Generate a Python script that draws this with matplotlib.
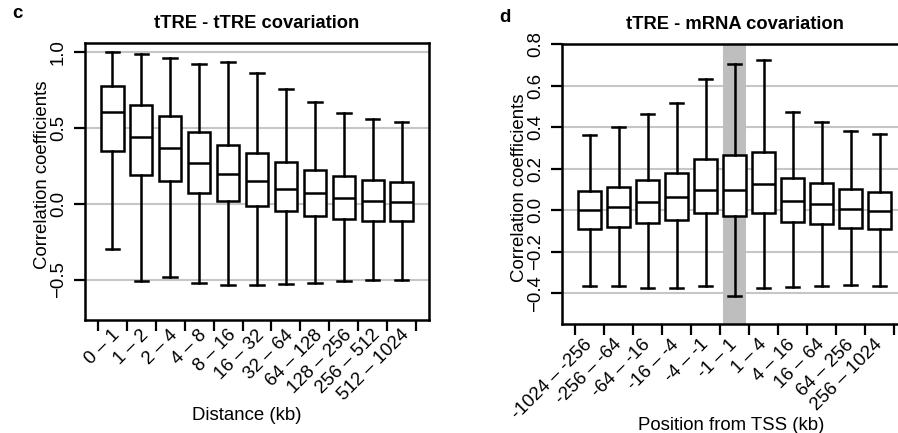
"""
Box plots of correlation coefficients:
  c) tTRE - tTRE covariation by pair distance
  d) tTRE - mRNA covariation by position relative to the TSS
"""

import matplotlib
matplotlib.use("Agg")
import matplotlib.pyplot as plt
import matplotlib.transforms as mtransforms
import numpy as np

plt.rcParams["font.family"] = ["Liberation Sans", "DejaVu Sans"]
plt.rcParams["font.size"] = 13.4

# panel c: distance bins (kb)
dist_labels = ["0 – 1", "1 – 2", "2 – 4", "4 – 8", "8 – 16", "16 – 32",
               "32 – 64", "64 – 128", "128 – 256", "256 – 512", "512 – 1024"]
dist_whislo = [-0.294, -0.51, -0.479, -0.523, -0.532, -0.532, -0.53, -0.523, -0.51, -0.503, -0.503]
dist_q1 = [0.348, 0.187, 0.148, 0.073, 0.02, -0.017, -0.048, -0.079, -0.099, -0.11, -0.116]
dist_med = [0.605, 0.438, 0.365, 0.268, 0.198, 0.15, 0.101, 0.071, 0.038, 0.022, 0.011]
dist_q3 = [0.778, 0.653, 0.578, 0.475, 0.387, 0.334, 0.275, 0.222, 0.185, 0.158, 0.145]
dist_whishi = [1.0, 0.99, 0.961, 0.921, 0.933, 0.86, 0.759, 0.671, 0.598, 0.559, 0.537]

# panel d: position from TSS bins (kb); the "-1 – 1" bin is highlighted
tss_labels = ["-1024 – -256", "-256 – -64", "-64 – -16", "-16 – -4", "-4 – -1",
              "-1 – 1", "1 – 4", "4 – 16", "16 – 64", "64 – 256", "256 – 1024"]
tss_whislo = [-0.363, -0.366, -0.376, -0.374, -0.366, -0.413, -0.373, -0.37, -0.363, -0.359, -0.363]
tss_q1 = [-0.092, -0.082, -0.063, -0.045, -0.012, -0.026, -0.012, -0.055, -0.068, -0.085, -0.092]
tss_med = [0.0, 0.014, 0.039, 0.063, 0.098, 0.098, 0.125, 0.043, 0.03, 0.008, -0.002]
tss_q3 = [0.093, 0.112, 0.146, 0.181, 0.249, 0.267, 0.282, 0.154, 0.132, 0.103, 0.09]
tss_whishi = [0.364, 0.4, 0.463, 0.519, 0.634, 0.704, 0.723, 0.472, 0.427, 0.381, 0.366]
tss_highlight = 5

BOX_W = 0.78
LW = 1.8


def make_stats(lo, q1, med, q3, hi):
    return [dict(whislo=a, q1=b, med=c, q3=d, whishi=e, fliers=[])
            for a, b, c, d, e in zip(lo, q1, med, q3, hi)]


def draw_panel(ax, stats, labels, yticks, ylim, title, xlabel,
               xlab_pos, ylab_pos, lab_pad, lab_dx):
    n = len(stats)
    pos = np.arange(1, n + 1)
    ax.set_axisbelow(True)
    ax.yaxis.grid(True, color="#c6c6c6", linewidth=1.5)
    ax.bxp(
        stats,
        positions=pos,
        widths=BOX_W,
        capwidths=0.46,
        patch_artist=True,
        showfliers=False,
        boxprops=dict(facecolor="white", edgecolor="black", linewidth=LW),
        whiskerprops=dict(color="black", linewidth=LW),
        capprops=dict(color="black", linewidth=LW),
        medianprops=dict(color="black", linewidth=LW),
        zorder=3,
    )
    ax.set_xlim(0.06, n + 0.94)
    ax.set_ylim(*ylim)
    ax.set_yticks(yticks)

    # labels sit under the boxes, tick marks fall between them
    ax.set_xticks(pos)
    ax.set_xticklabels(labels, rotation=45, ha="right", va="center",
                       rotation_mode="anchor")
    ax.set_xticks(np.arange(0.5, n + 1, 1.0), minor=True)
    ax.tick_params(axis="x", which="major", length=0, pad=lab_pad)
    ax.tick_params(axis="x", which="minor", length=8, width=1.6, direction="out")
    shift = mtransforms.ScaledTranslation(lab_dx / 100, 0, ax.figure.dpi_scale_trans)
    for lab in ax.get_xticklabels():
        lab.set_transform(lab.get_transform() + shift)
    ax.tick_params(axis="y", length=8, width=1.6, pad=5, labelrotation=90)
    for lab in ax.get_yticklabels():
        lab.set_va("center")

    for sp in ax.spines.values():
        sp.set_linewidth(1.8)

    ax.set_title(title, fontweight="bold", fontsize=13.2, pad=11)
    ax.set_xlabel(xlabel)
    ax.xaxis.set_label_coords(*xlab_pos)
    ax.set_ylabel("Correlation coefficients")
    ax.yaxis.set_label_coords(*ylab_pos)


fig = plt.figure(figsize=(8.98, 4.33), dpi=100)

ax_c = fig.add_axes([0.0947, 0.261, 0.383, 0.6397])
draw_panel(
    ax_c,
    make_stats(dist_whislo, dist_q1, dist_med, dist_q3, dist_whishi),
    dist_labels,
    [-0.5, 0.0, 0.5, 1.0],
    (-0.765, 1.06),
    "tTRE - tTRE covariation",
    "Distance (kb)",
    (0.471, -0.313),
    (-0.0997, 0.523),
    lab_pad=9,
    lab_dx=5,
)

ax_d = fig.add_axes([0.6262, 0.2517, 0.3838, 0.646])
ax_d.axvspan(tss_highlight + 1 - BOX_W / 2, tss_highlight + 1 + BOX_W / 2,
             color="#bebebe", linewidth=0, zorder=1)
draw_panel(
    ax_d,
    make_stats(tss_whislo, tss_q1, tss_med, tss_q3, tss_whishi),
    tss_labels,
    [-0.4, -0.2, 0.0, 0.2, 0.4, 0.6, 0.8],
    (-0.548, 0.80),
    "tTRE - mRNA covariation",
    "Position from TSS (kb)",
    (0.489, -0.331),
    (-0.0986, 0.487),
    lab_pad=13,
    lab_dx=0,
)

fig.text(12 / 898, 1 - 18 / 433, "c", fontweight="bold", va="baseline")
fig.text(499 / 898, 1 - 21.5 / 433, "d", fontweight="bold", va="baseline")

fig.savefig("out.png", dpi=100)
